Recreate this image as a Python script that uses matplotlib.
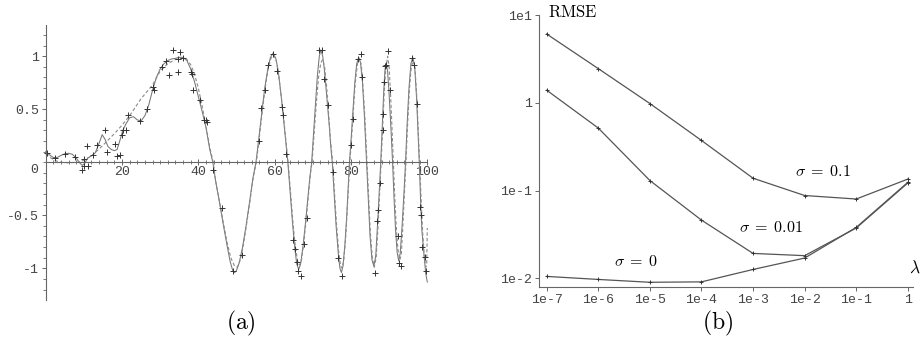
import numpy as np
import matplotlib
matplotlib.use("Agg")
import matplotlib.pyplot as plt
from matplotlib.ticker import MultipleLocator

plt.rcParams["mathtext.fontset"] = "cm"

# ---- panel (a): fitted curves and noisy samples ----
fit_x = [0, 1, 2, 3, 4, 5, 6, 7, 8, 9, 9.6, 10.2, 11, 12, 13, 14, 14.8, 15.5, 16.3, 17.2, 18, 18.7,
         19.4, 20.2, 21, 22, 23, 24, 25, 26, 27, 28, 29, 30, 31, 32, 33, 34, 35, 36, 37, 38, 39,
         40, 41, 42, 43, 43.8,
         44.5, 45.5, 46.5, 47.5, 48.3, 49.0, 49.4, 49.9, 50.7, 51.6, 52.5, 53.4, 54.3, 55.1,
         55.8, 56.6, 57.4, 58.2, 58.9, 59.6, 60.3, 60.9, 61.6, 62.3, 62.9, 63.5,
         64.1, 64.7, 65.3, 65.8, 66.3, 66.8, 67.4, 68.0, 68.6, 69.2, 69.7,
         70.2, 70.7, 71.2, 71.7, 72.1, 72.6, 73.1, 73.7, 74.3, 74.7, 75.1,
         75.6, 76.1, 76.7, 77.1, 77.5, 77.9, 78.4, 78.9, 79.3, 79.6,
         80.0, 80.5, 81.0, 81.5, 82.0, 82.5, 83.0, 83.5, 83.8, 84.1,
         84.5, 85.0, 85.5, 86.0, 86.5, 87.0, 87.4, 87.8,
         88.2, 88.6, 88.9, 89.2, 89.6, 90.0, 90.5, 90.9,
         91.3, 91.7, 92.1, 92.5, 92.9, 93.4, 93.9, 94.3,
         94.7, 95.2, 95.7, 96.2, 96.7, 97.2, 97.6, 97.9,
         98.3, 98.6, 99.2, 99.6, 100]
fit_y = [0.10, 0.07, 0.045, 0.045, 0.065, 0.08, 0.085, 0.075, 0.04, -0.01, -0.03, -0.01, 0.04, 0.06,
         0.09, 0.18, 0.26, 0.22, 0.15, 0.12, 0.11, 0.12, 0.20, 0.30, 0.36, 0.42, 0.43, 0.40, 0.39,
         0.44, 0.54, 0.68, 0.80, 0.88, 0.93, 0.96, 0.975, 0.98, 0.99, 0.99, 0.96, 0.88, 0.76,
         0.62, 0.48, 0.33, 0.12, 0.0,
         -0.17, -0.37, -0.58, -0.78, -0.93, -1.02, -1.04, -1.03, -0.95, -0.80, -0.60, -0.38, -0.15, 0.0,
         0.21, 0.46, 0.70, 0.88, 0.99, 1.03, 0.98, 0.87, 0.66, 0.42, 0.20, -0.02,
         -0.30, -0.58, -0.82, -0.96, -1.01, -0.96, -0.80, -0.60, -0.38, -0.15, 0.0,
         0.28, 0.55, 0.82, 1.00, 1.06, 1.00, 0.85, 0.60, 0.35, 0.15, 0.0,
         -0.30, -0.60, -0.87, -1.00, -1.04, -0.98, -0.78, -0.50, -0.22, 0.0,
         0.20, 0.47, 0.75, 0.93, 0.99, 0.94, 0.76, 0.45, 0.22, 0.0,
         -0.33, -0.70, -0.92, -0.98, -0.88, -0.56, -0.28, 0.0,
         0.35, 0.68, 0.87, 0.93, 0.86, 0.64, 0.30, 0.0,
         -0.35, -0.65, -0.85, -0.93, -0.86, -0.60, -0.28, 0.0,
         0.35, 0.70, 0.93, 0.99, 0.90, 0.60, 0.25, 0.0,
         -0.42, -0.65, -0.90, -1.05, -1.13]

true_x = [0, 1, 2, 3, 4, 6, 8, 9, 10, 12, 15, 18, 20, 22, 25, 28, 30, 32, 34, 36, 37, 38, 39,
          40, 41, 42, 43, 43.9,
          44.5, 45.5, 46.5, 47.5, 48.5, 49.5, 50.2, 51.0, 51.8, 52.7, 53.6, 54.4, 55.2,
          55.9, 56.7, 57.5, 58.3, 59.0, 59.7, 60.4, 61.0, 61.7, 62.4, 63.0, 63.6,
          64.2, 64.8, 65.4, 66.0, 66.5, 67.0, 67.6, 68.2, 68.8, 69.4, 69.8,
          70.4, 70.9, 71.5, 72.1, 72.6, 73.1, 73.6, 74.1, 74.6, 75.2,
          75.7, 76.2, 76.8, 77.3, 77.7, 78.1, 78.6, 79.0, 79.4, 79.7,
          80.1, 80.6, 81.1, 81.7, 82.2, 82.7, 83.1, 83.6, 83.9, 84.2,
          84.6, 85.1, 85.6, 86.1, 86.6, 87.1, 87.5, 87.9,
          88.3, 88.7, 89.1, 89.6, 90.0, 90.4, 90.8, 91.1,
          91.5, 91.9, 92.3, 92.8, 93.2, 93.6, 94.0, 94.4,
          94.8, 95.3, 95.8, 96.3, 96.8, 97.3, 97.7, 98.0,
          98.4, 98.8, 99.2, 99.6, 99.85, 100]
true_y = [0.08, 0.05, 0.025, 0.01, 0.0, -0.005, 0.0, 0.005, 0.02, 0.06, 0.16, 0.27, 0.35, 0.44,
          0.60, 0.73, 0.86, 0.93, 0.97, 0.98, 0.97, 0.92, 0.83, 0.70, 0.53, 0.34, 0.14, 0.0,
          -0.17, -0.36, -0.56, -0.75, -0.90, -0.98, -0.99, -0.92, -0.78, -0.57, -0.35, -0.14, 0.0,
          0.21, 0.46, 0.70, 0.88, 0.98, 1.01, 0.96, 0.84, 0.63, 0.40, 0.18, -0.03,
          -0.30, -0.57, -0.79, -0.93, -0.97, -0.93, -0.77, -0.56, -0.33, -0.10, 0.0,
          0.30, 0.55, 0.80, 0.94, 0.97, 0.90, 0.72, 0.48, 0.22, 0.0,
          -0.30, -0.58, -0.85, -0.98, -1.00, -0.93, -0.72, -0.46, -0.20, 0.0,
          0.20, 0.47, 0.74, 0.93, 0.98, 0.92, 0.74, 0.45, 0.22, 0.0,
          -0.33, -0.68, -0.90, -0.99, -0.90, -0.60, -0.30, 0.0,
          0.33, 0.65, 0.87, 1.00, 0.90, 0.62, 0.28, 0.0,
          -0.35, -0.63, -0.82, -0.92, -0.87, -0.60, -0.30, 0.0,
          0.33, 0.68, 0.90, 0.96, 0.88, 0.58, 0.24, 0.0,
          -0.36, -0.67, -0.88, -0.99, -0.95, -0.62]

sample_x = [0.3, 2.4, 5.1, 7.7, 9.4, 10.0, 10.1, 11.2, 10.7, 12.5, 13.4, 15.5, 16.0, 18.2, 18.6,
            19.6, 19.9, 20.2, 21.0, 21.5, 24.7, 26.6, 28.2, 28.5, 30.4, 31.6, 32.2, 33.3, 34.8,
            34.8, 35.3, 35.9, 38.2, 38.4, 38.7, 40.4, 41.5, 42.0, 42.2, 43.8,
            46.1, 49.0, 51.4, 55.8, 56.5, 57.5, 58.3, 59.6, 60.7, 61.8, 62.1, 63.1,
            64.9, 65.3, 65.8, 66.0, 66.9, 67.7, 68.4,
            71.7, 72.4, 72.9, 74.1, 75.4, 76.7, 77.6,
            79.9, 80.4, 81.8, 82.6, 82.8,
            86.3, 86.9, 87.2, 87.5, 88.3, 88.5, 88.7, 88.9, 89.3, 89.6, 90.2,
            92.2, 92.7, 93.0, 95.9, 96.5, 97.2, 98.1, 98.3, 98.6, 99.5, 99.7]
sample_y = [0.09, 0.04, 0.075, 0.05, -0.07, 0.03, -0.035, -0.035, 0.15, 0.07, 0.16, 0.30, 0.10,
            0.17, 0.06, 0.07, 0.26, 0.30, 0.30, 0.45, 0.39, 0.50, 0.71, 0.68, 0.90, 0.96, 0.82,
            1.06, 0.85, 0.97, 1.04, 0.98, 0.85, 0.83, 0.68, 0.59, 0.40, 0.40, 0.38, -0.07,
            -0.43, -1.03, -0.87, 0.20, 0.51, 0.68, 0.92, 1.02, 0.86, 0.52, 0.45, 0.08,
            -0.73, -0.82, -0.94, -1.03, -1.07, -0.77, -0.53,
            1.06, 1.06, 0.79, 0.54, -0.09, -0.90, -1.07,
            0.16, 0.41, 0.97, 1.02, 0.80,
            -1.04, -0.55, -0.45, -0.20, 0.30, 0.46, 0.76, 0.91, 0.92, 1.05, 0.68,
            -0.70, -0.95, -0.98, 0.98, 0.92, 0.55, -0.42, -0.50, -0.80, -0.89, -1.03]

a_xticks = [20, 40, 60, 80, 100]
a_yticks = [-1, -0.5, 0.5, 1]
a_ylabels = ["-1", "-0.5", "0.5", "1"]

# ---- panel (b): RMSE vs regularisation ----
lambdas = [1e-7, 1e-6, 1e-5, 1e-4, 1e-3, 1e-2, 1e-1, 1]
lambda_labels = ["1e-7", "1e-6", "1e-5", "1e-4", "1e-3", "1e-2", "1e-1", "1"]
rmse_s01 = [6.07, 2.45, 0.98, 0.372, 0.138, 0.0877, 0.080, 0.135]
rmse_s001 = [1.39, 0.515, 0.13, 0.046, 0.0192, 0.0181, 0.0374, 0.122]
rmse_s0 = [0.0105, 0.0097, 0.0090, 0.0091, 0.0126, 0.017, 0.038, 0.124]
b_yticks = [10, 1, 0.1, 0.01]
b_ylabels = ["1e1", "1", "1e-1", "1e-2"]

W, H = 922, 346
fig = plt.figure(figsize=(W / 100, H / 100), dpi=100)

mono = "Liberation Mono"
lab_col = "#444444"
ax_col = "#666666"

# panel (a)
ax = fig.add_axes([45.7 / W, 1 - 300 / H, (427.3 - 45.7) / W, 275 / H])
ax.set_xlim(0, 100)
ax.set_ylim(-1.299, 1.295)
ax.plot(fit_x, fit_y, color="#777777", lw=0.75, clip_on=False)
ax.plot(true_x, true_y, color="#8a8a8a", lw=0.8, dashes=(3, 2), clip_on=False)
ax.plot(sample_x, sample_y, ls="none", marker="+", ms=4.5, mew=0.7, color="#333333", clip_on=False)

ax.spines["left"].set_position(("data", 0))
ax.spines["bottom"].set_position(("data", 0))
for s in ["top", "right"]:
    ax.spines[s].set_visible(False)
for s in ["left", "bottom"]:
    ax.spines[s].set_color(ax_col)
    ax.spines[s].set_linewidth(0.8)
ax.set_xticks(a_xticks)
ax.set_xticklabels([str(t) for t in a_xticks])
ax.set_yticks(a_yticks)
ax.set_yticklabels(a_ylabels)
ax.xaxis.set_minor_locator(MultipleLocator(2))
ax.yaxis.set_minor_locator(MultipleLocator(0.1))
ax.tick_params(axis="x", which="both", direction="inout", colors=ax_col, labelcolor=lab_col, pad=1)
ax.tick_params(axis="x", which="major", length=4, width=0.7)
ax.tick_params(axis="x", which="minor", length=2.5, width=0.6)
ax.tick_params(axis="y", which="major", length=3, width=0.7, colors=ax_col, labelcolor=lab_col, pad=2)
ax.tick_params(axis="y", which="minor", length=2, width=0.6, colors=ax_col)
for t in ax.get_xticklabels() + ax.get_yticklabels():
    t.set_fontfamily(mono)
    t.set_fontsize(9.5)
ax.text(-2, -0.02, "0", family=mono, fontsize=9.5, color=lab_col, ha="right", va="top")

# panel (b)
bx = fig.add_axes([539.3 / W, 1 - 286.7 / H, (913 - 539.3) / W, (286.7 - 15) / H])
bx.set_xscale("log")
bx.set_yscale("log")
bx.set_xlim(10 ** -7.143, 10 ** 0.10)
bx.set_ylim(10 ** -2.096, 10 ** 1)
for ys in [rmse_s01, rmse_s001, rmse_s0]:
    bx.plot(lambdas, ys, color="#555555", lw=0.9, marker="+", ms=3.5, mew=0.7, mec="#333333")
for s in ["top", "right"]:
    bx.spines[s].set_visible(False)
for s in ["left", "bottom"]:
    bx.spines[s].set_color(ax_col)
    bx.spines[s].set_linewidth(0.8)
bx.set_xticks(lambdas)
bx.set_xticklabels(lambda_labels)
bx.set_yticks(b_yticks)
bx.set_yticklabels(b_ylabels)
bx.minorticks_off()
bx.tick_params(which="major", length=3, width=0.7, colors=ax_col, labelcolor=lab_col, pad=2)
for t in bx.get_xticklabels() + bx.get_yticklabels():
    t.set_fontfamily(mono)
    t.set_fontsize(9.5)

fig.text(548 / W, 1 - 12 / H, r"$\mathrm{RMSE}$", fontsize=12, ha="left", va="center")
fig.text(915 / W, 1 - 268 / H, r"$\lambda$", fontsize=12.5, ha="center", va="center")
fig.text(823 / W, 1 - 172 / H, r"$\sigma\;=\;0.1$", fontsize=11.5, ha="center", va="center")
fig.text(771 / W, 1 - 228 / H, r"$\sigma\;=\;0.01$", fontsize=11.5, ha="center", va="center")
fig.text(636 / W, 1 - 262 / H, r"$\sigma\;=\;0$", fontsize=11.5, ha="center", va="center")

fig.text(241 / W, 1 - 323 / H, r"$\mathrm{(a)}$", fontsize=17, ha="center", va="center")
fig.text(718 / W, 1 - 323 / H, r"$\mathrm{(b)}$", fontsize=17, ha="center", va="center")

fig.savefig("out.png", dpi=100)
